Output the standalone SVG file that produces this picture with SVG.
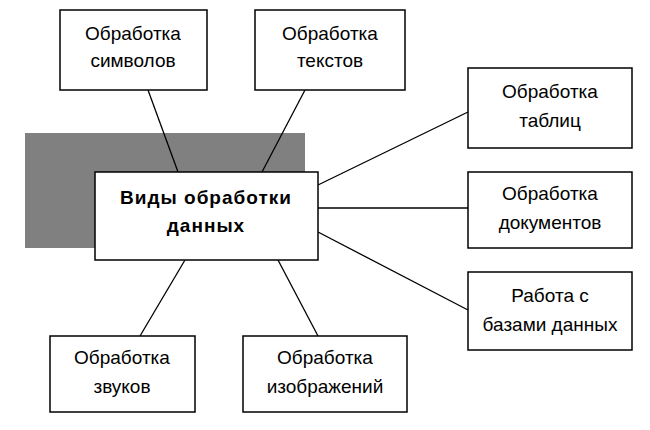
<svg xmlns="http://www.w3.org/2000/svg" width="650" height="430" viewBox="0 0 650 430">
<style>
.b{fill:#fff;stroke:#000;stroke-width:1.5}
.t{font-family:"Liberation Sans",Arial,sans-serif;font-size:19px;text-anchor:middle;fill:#000}
.c line{stroke:#000;stroke-width:1.3}
</style>
<rect x="0" y="0" width="650" height="430" fill="#fff"/>
<rect x="25" y="133" width="280" height="115" fill="#808080"/>
<g class="c">
<line x1="148" y1="90" x2="178" y2="172"/>
<line x1="305" y1="90" x2="262" y2="172"/>
<line x1="318" y1="185" x2="468" y2="112"/>
<line x1="318" y1="208" x2="468" y2="208"/>
<line x1="318" y1="232" x2="468" y2="310"/>
<line x1="185" y1="260" x2="140" y2="336"/>
<line x1="278" y1="260" x2="318" y2="336"/>
</g>
<g id="center"><rect class="b" x="95" y="172" width="223" height="88"/>
<text class="t" x="206" y="204" font-weight="bold" font-size="17" letter-spacing="1">Виды обработки</text>
<text class="t" x="206" y="232" font-weight="bold" font-size="17" letter-spacing="1">данных</text></g>
<g id="n1"><rect class="b" x="60" y="10" width="147" height="80"/><text class="t" x="133" y="40">Обработка</text><text class="t" x="133" y="67">символов</text></g>
<g id="n2"><rect class="b" x="255" y="10" width="150" height="80"/><text class="t" x="330" y="40">Обработка</text><text class="t" x="330" y="67">текстов</text></g>
<g id="n3"><rect class="b" x="468" y="68" width="164" height="80"/><text class="t" x="550" y="98">Обработка</text><text class="t" x="550" y="127">таблиц</text></g>
<g id="n4"><rect class="b" x="468" y="172" width="164" height="76"/><text class="t" x="550" y="200">Обработка</text><text class="t" x="550" y="229">документов</text></g>
<g id="n5"><rect class="b" x="468" y="272" width="164" height="78"/><text class="t" x="550" y="302">Работа с</text><text class="t" x="550" y="331">базами данных</text></g>
<g id="n6"><rect class="b" x="50" y="336" width="145" height="76"/><text class="t" x="122" y="364">Обработка</text><text class="t" x="122" y="393">звуков</text></g>
<g id="n7"><rect class="b" x="243" y="336" width="164" height="76"/><text class="t" x="325" y="364">Обработка</text><text class="t" x="325" y="393">изображений</text></g>
</svg>
